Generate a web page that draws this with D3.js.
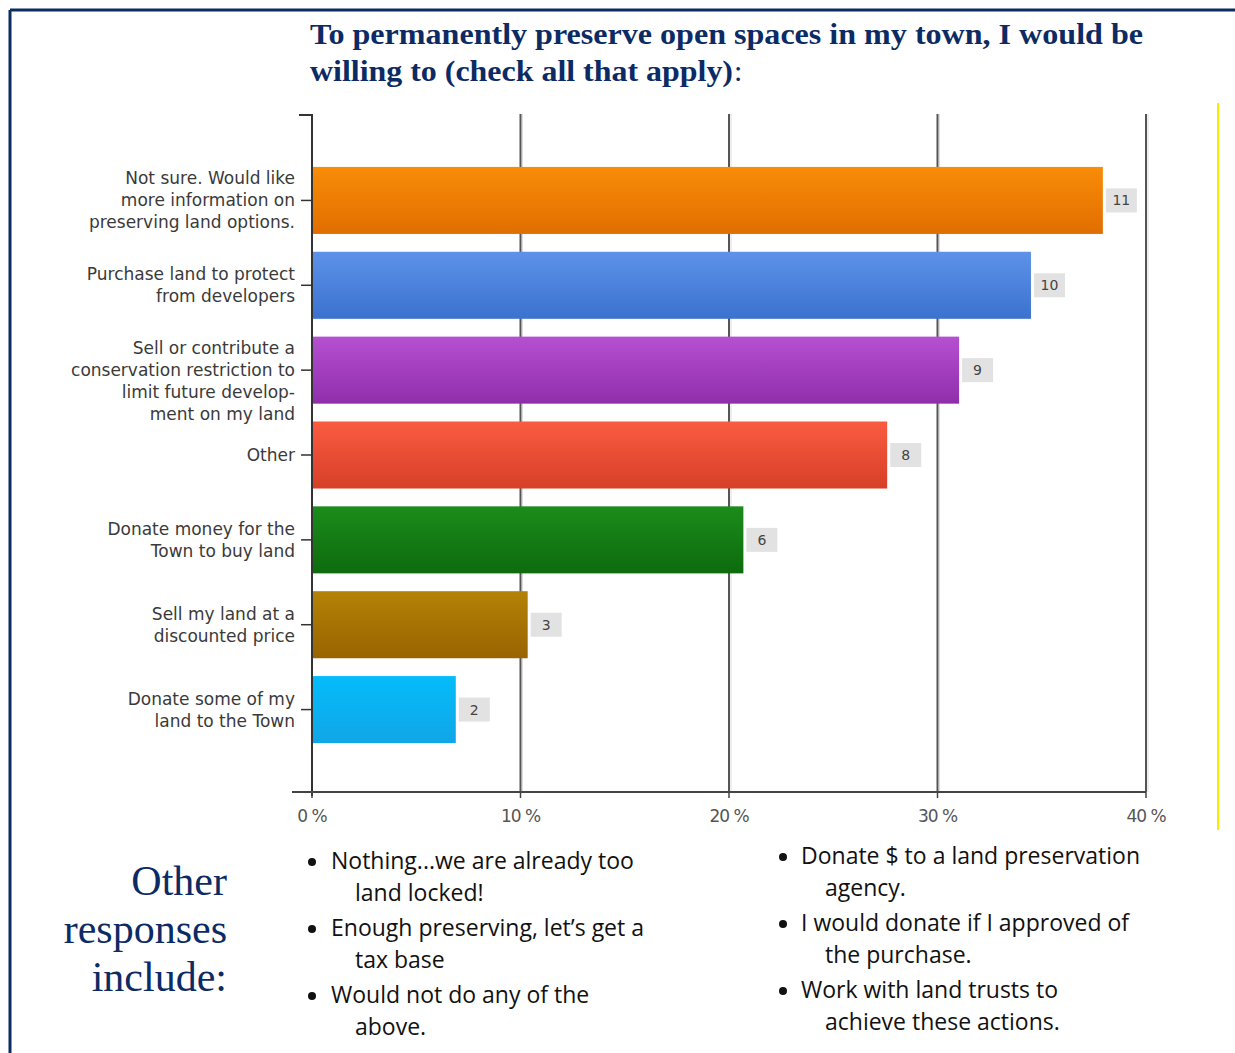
<!DOCTYPE html>
<html>
<head>
<meta charset="utf-8">
<script src="https://cdn.jsdelivr.net/npm/d3@7"></script>
<style>
  html, body { margin: 0; padding: 0; background: #fff; }
  svg { display: block; }
</style>
</head>
<body>
<svg id="chart" width="1235" height="1053"></svg>
<script>
// Survey answers, number of respondents choosing each option
const categories = [
  ["Not sure. Would like", "more information on", "preserving land options."],
  ["Purchase land to protect", "from developers"],
  ["Sell or contribute a", "conservation restriction to", "limit future develop-", "ment on my land"],
  ["Other"],
  ["Donate money for the", "Town to buy land"],
  ["Sell my land at a", "discounted price"],
  ["Donate some of my", "land to the Town"]
];
const counts = [11, 10, 9, 8, 6, 3, 2];
const respondents = 29;
const xTicks = [0, 10, 20, 30, 40];
const barColors = [
  ["#f98c08", "#e06e00"],
  ["#5e92e8", "#3a72cf"],
  ["#b650d2", "#8f2eab"],
  ["#fa5c40", "#d73f28"],
  ["#1b8c1b", "#0d6b0d"],
  ["#b48207", "#996300"],
  ["#05bcfb", "#10a6e6"]
];
const titleLines = ["To permanently preserve open spaces in my town, I would be", "willing to (check all that apply)"];
const otherHeading = ["Other", "responses", "include:"];
const otherLeft = [
  ["Nothing...we are already too", "land locked!"],
  ["Enough preserving, let\u2019s get a", "tax base"],
  ["Would not do any of the", "above."]
];
const otherRight = [
  ["Donate $ to a land preservation", "agency."],
  ["I would donate if I approved of", "the purchase."],
  ["Work with land trusts to", "achieve these actions."]
];

const svg = d3.select("#chart");
const navy = "#0c2b64";

// page frame
svg.append("line").attr("x1", 10).attr("x2", 1235).attr("y1", 10).attr("y2", 10)
  .attr("stroke", navy).attr("stroke-width", 3);
svg.append("line").attr("x1", 10).attr("x2", 10).attr("y1", 10).attr("y2", 1053)
  .attr("stroke", navy).attr("stroke-width", 3);
svg.append("line").attr("x1", 1218).attr("x2", 1218).attr("y1", 103).attr("y2", 830)
  .attr("stroke", "#f5ee00").attr("stroke-width", 2);

// title
const titleFont = "'Liberation Serif', 'Times New Roman', serif";
svg.append("text").attr("fill", navy).attr("font-family", titleFont)
  .attr("font-weight", "bold").attr("font-size", 30)
  .attr("x", 310).attr("y", 44).attr("textLength", 833)
  .attr("lengthAdjust", "spacingAndGlyphs").text(titleLines[0]);
svg.append("text").attr("fill", navy).attr("font-family", titleFont)
  .attr("font-weight", "bold").attr("font-size", 30)
  .attr("x", 310).attr("y", 81).attr("textLength", 423)
  .attr("lengthAdjust", "spacingAndGlyphs").text(titleLines[1]);
svg.append("text").attr("fill", navy).attr("font-family", titleFont)
  .attr("font-size", 30).attr("x", 734).attr("y", 81).text(":");

// scales
const x = d3.scaleLinear().domain([0, 40]).range([312, 1146]);
const y = d3.scaleBand().domain(d3.range(categories.length))
  .range([158, 752]).paddingInner(0.21).paddingOuter(0.105);
const pct = counts.map(c => c / respondents * 100);

// gradients
const defs = svg.append("defs");
barColors.forEach((c, i) => {
  const g = defs.append("linearGradient").attr("id", "bar" + i)
    .attr("x1", 0).attr("x2", 0).attr("y1", 0).attr("y2", 1);
  g.append("stop").attr("offset", "0%").attr("stop-color", c[0]);
  g.append("stop").attr("offset", "100%").attr("stop-color", c[1]);
});

// vertical gridlines
const axisBottomY = 792;
svg.append("g").selectAll("line").data(xTicks.slice(1)).join("line")
  .attr("x1", d => x(d)).attr("x2", d => x(d))
  .attr("y1", 114).attr("y2", axisBottomY)
  .attr("stroke", "#555").attr("stroke-width", 2);
svg.append("g").selectAll("line").data(xTicks.slice(1)).join("line")
  .attr("x1", d => x(d) + 2).attr("x2", d => x(d) + 2)
  .attr("y1", 114).attr("y2", axisBottomY)
  .attr("stroke", "#ddd").attr("stroke-width", 1);

// bars
svg.append("g").selectAll("rect").data(pct).join("rect")
  .attr("x", x(0)).attr("y", (d, i) => y(i))
  .attr("width", d => x(d) - x(0)).attr("height", y.bandwidth())
  .attr("fill", (d, i) => `url(#bar${i})`);

// value labels
const lab = svg.append("g").selectAll("g").data(pct).join("g")
  .attr("transform", (d, i) => `translate(${x(d) + 3},${y(i) + y.bandwidth() / 2})`);
lab.append("rect").attr("x", 0).attr("y", -12).attr("width", 31).attr("height", 24)
  .attr("fill", "#e2e2e2");
lab.append("text").attr("x", 15.5).attr("y", 5).attr("text-anchor", "middle")
  .attr("font-family", "'DejaVu Sans', sans-serif").attr("font-size", 14)
  .attr("fill", "#444").text((d, i) => counts[i]);

// y axis
const yAxis = svg.append("g").attr("transform", `translate(${x(0)},0)`);
yAxis.append("line").attr("x1", 0).attr("x2", 0).attr("y1", 114).attr("y2", axisBottomY + 4)
  .attr("stroke", "#333").attr("stroke-width", 2);
yAxis.append("line").attr("x1", -13).attr("x2", 0).attr("y1", 115).attr("y2", 115)
  .attr("stroke", "#333").attr("stroke-width", 2);
yAxis.selectAll(".tk").data(categories).join("line").attr("class", "tk")
  .attr("x1", -11).attr("x2", 0)
  .attr("y1", (d, i) => y(i) + y.bandwidth() / 2)
  .attr("y2", (d, i) => y(i) + y.bandwidth() / 2)
  .attr("stroke", "#333").attr("stroke-width", 1.5);

const lineH = 22;
yAxis.selectAll(".cat").data(categories).join("text").attr("class", "cat")
  .attr("text-anchor", "end").attr("fill", "#3a3a3a")
  .attr("font-family", "'DejaVu Sans', sans-serif").attr("font-size", 17)
  .attr("letter-spacing", "0")
  .each(function (lines, i) {
    const cy = y(i) + y.bandwidth() / 2;
    const n = Math.min(lines.length, 3);
    const top = cy - (n - 1) * lineH / 2 + 6;
    lines.forEach((l, k) => {
      d3.select(this).append("tspan").attr("x", -17).attr("y", top + k * lineH).text(l);
    });
  });

// x axis
const xAxis = svg.append("g").attr("transform", `translate(0,${axisBottomY})`);
xAxis.append("line").attr("x1", 292).attr("x2", x(40)).attr("y1", 0).attr("y2", 0)
  .attr("stroke", "#444").attr("stroke-width", 2);
xAxis.selectAll(".xt").data(xTicks).join("line").attr("class", "xt")
  .attr("x1", d => x(d)).attr("x2", d => x(d)).attr("y1", 0).attr("y2", 6)
  .attr("stroke", "#444").attr("stroke-width", 1.5);
xAxis.selectAll(".xl").data(xTicks).join("text").attr("class", "xl")
  .attr("x", d => x(d)).attr("y", 30).attr("text-anchor", "middle")
  .attr("font-family", "'DejaVu Sans', sans-serif").attr("font-size", 17)
  .attr("letter-spacing", "-1").attr("fill", "#555")
  .text(d => d + " %");

// other responses heading
svg.append("text").attr("text-anchor", "end").attr("fill", navy)
  .attr("font-family", titleFont).attr("font-size", 42)
  .selectAll("tspan").data(otherHeading).join("tspan")
  .attr("x", 227).attr("y", (d, i) => 895 + i * 48).text(d => d);

// bullet lists
function bullets(items, bx, tx, ix, y0) {
  const g = svg.append("g").attr("font-family", "'Liberation Sans Narrow', 'Open Sans', sans-serif")
    .attr("font-size", 23).attr("fill", "#111");
  items.forEach((lines, i) => {
    const by = y0 + i * 67;
    g.append("circle").attr("cx", bx).attr("cy", by - 7).attr("r", 4).attr("fill", "#111");
    lines.forEach((l, k) => {
      g.append("text").attr("x", k === 0 ? tx : ix).attr("y", by + k * 32).text(l);
    });
  });
}
bullets(otherLeft, 312, 331, 355, 869);
bullets(otherRight, 783, 801, 825, 864);
</script>
</body>
</html>
